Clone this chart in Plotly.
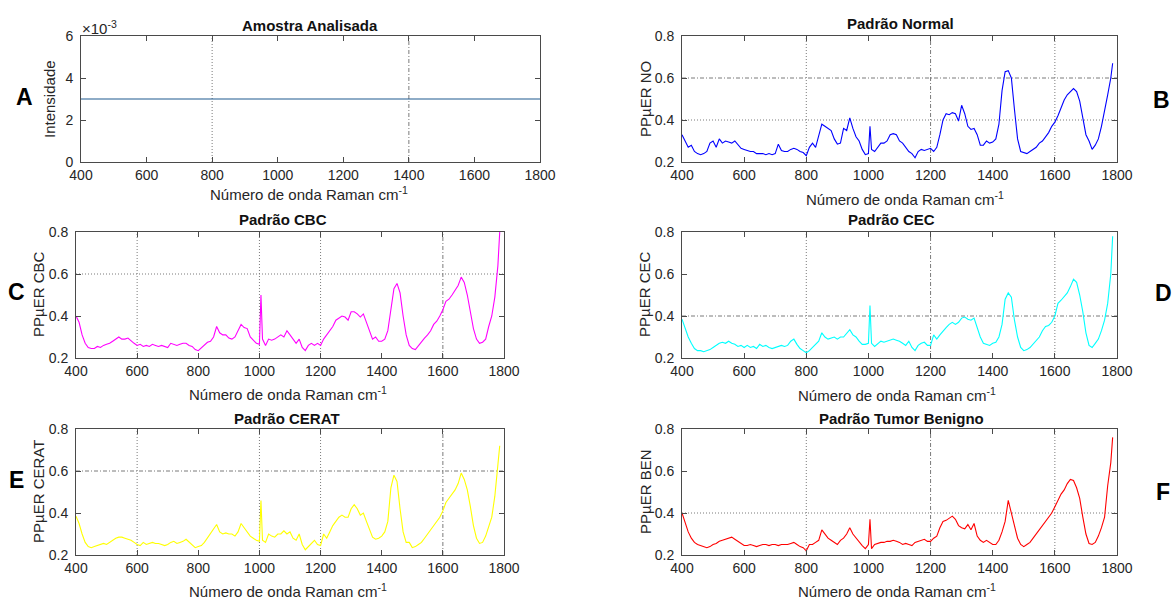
import plotly.graph_objects as go

W, H = 1173, 599

# Raman shift axis (cm^-1); extra sample at 1005 for the phenylalanine band
wavenumber = list(range(400, 1001, 10)) + [1005] + list(range(1010, 1781, 10)) + [1786]

# Analysed sample (flat trace)
amostra_x = [400, 1800]
amostra_y = [0.003, 0.003]

# Normal pattern
normal = [
    0.33, 0.30, 0.27, 0.28, 0.25, 0.24, 0.235, 0.24, 0.25, 0.29,      # 400-490
    0.30, 0.27, 0.31, 0.29, 0.30, 0.295, 0.29, 0.30, 0.28, 0.265,     # 500-590
    0.26, 0.255, 0.25, 0.25, 0.24, 0.24, 0.24, 0.235, 0.24, 0.235,    # 600-690
    0.24, 0.285, 0.255, 0.25, 0.25, 0.26, 0.265, 0.26, 0.25, 0.245,   # 700-790
    0.23, 0.27, 0.29, 0.27, 0.32, 0.38, 0.37, 0.36, 0.35, 0.31,       # 800-890
    0.285, 0.29, 0.36, 0.35, 0.41, 0.36, 0.32, 0.30, 0.26, 0.235,     # 900-990
    0.24, 0.37, 0.26, 0.25, 0.27, 0.29, 0.29, 0.30, 0.33, 0.335,      # 1000,1005,1010-1080
    0.33, 0.30, 0.29, 0.27, 0.25, 0.24, 0.22, 0.25, 0.26, 0.255,      # 1090-1180
    0.26, 0.265, 0.25, 0.27, 0.33, 0.40, 0.43, 0.425, 0.435, 0.43,    # 1190-1280
    0.395, 0.47, 0.43, 0.37, 0.355, 0.36, 0.33, 0.28, 0.28, 0.30,     # 1290-1380
    0.29, 0.295, 0.31, 0.38, 0.54, 0.63, 0.635, 0.60, 0.45, 0.31,     # 1390-1480
    0.25, 0.245, 0.24, 0.25, 0.26, 0.27, 0.29, 0.30, 0.32, 0.34,      # 1490-1580
    0.37, 0.39, 0.42, 0.46, 0.495, 0.52, 0.535, 0.55, 0.535, 0.49,    # 1590-1680
    0.41, 0.33, 0.30, 0.26, 0.28, 0.31, 0.37, 0.44, 0.52, 0.60,       # 1690-1780
    0.67,                                                             # 1786
]

# CBC pattern
cbc = [
    0.40, 0.37, 0.31, 0.27, 0.25, 0.245, 0.245, 0.255, 0.25, 0.26,
    0.265, 0.27, 0.28, 0.29, 0.30, 0.29, 0.29, 0.295, 0.28, 0.27,
    0.26, 0.265, 0.255, 0.26, 0.255, 0.265, 0.26, 0.255, 0.26, 0.255,
    0.25, 0.27, 0.265, 0.26, 0.265, 0.27, 0.27, 0.26, 0.255, 0.24,
    0.235, 0.25, 0.26, 0.275, 0.28, 0.30, 0.35, 0.32, 0.31, 0.31,
    0.295, 0.29, 0.30, 0.33, 0.36, 0.345, 0.34, 0.30, 0.285, 0.27,
    0.265, 0.50, 0.29, 0.26, 0.29, 0.285, 0.29, 0.30, 0.31, 0.30,
    0.33, 0.31, 0.29, 0.27, 0.29, 0.25, 0.235, 0.26, 0.27, 0.26,
    0.27, 0.26, 0.29, 0.31, 0.33, 0.35, 0.38, 0.39, 0.40, 0.395,
    0.38, 0.42, 0.42, 0.41, 0.395, 0.41, 0.37, 0.33, 0.29, 0.30,
    0.28, 0.28, 0.29, 0.33, 0.44, 0.53, 0.555, 0.51, 0.40, 0.31,
    0.26, 0.245, 0.24, 0.26, 0.28, 0.295, 0.31, 0.33, 0.36, 0.375,
    0.40, 0.43, 0.47, 0.48, 0.50, 0.52, 0.545, 0.585, 0.56, 0.50,
    0.42, 0.34, 0.29, 0.27, 0.275, 0.29, 0.35, 0.40, 0.49, 0.64,
    0.80,
]

# CEC pattern
cec = [
    0.385, 0.34, 0.30, 0.27, 0.245, 0.235, 0.235, 0.23, 0.235, 0.24,
    0.25, 0.26, 0.27, 0.275, 0.27, 0.28, 0.27, 0.265, 0.255, 0.26,
    0.25, 0.26, 0.25, 0.255, 0.245, 0.265, 0.255, 0.26, 0.25, 0.245,
    0.25, 0.255, 0.26, 0.255, 0.26, 0.28, 0.29, 0.265, 0.245, 0.235,
    0.225, 0.235, 0.25, 0.26, 0.28, 0.32, 0.30, 0.29, 0.295, 0.30,
    0.29, 0.30, 0.30, 0.32, 0.335, 0.31, 0.30, 0.28, 0.265, 0.265,
    0.27, 0.45, 0.27, 0.255, 0.27, 0.28, 0.275, 0.28, 0.285, 0.29,
    0.285, 0.28, 0.27, 0.26, 0.28, 0.25, 0.235, 0.26, 0.27, 0.275,
    0.26, 0.26, 0.31, 0.29, 0.31, 0.33, 0.345, 0.36, 0.37, 0.36,
    0.37, 0.39, 0.395, 0.385, 0.38, 0.39, 0.34, 0.30, 0.27, 0.265,
    0.26, 0.27, 0.275, 0.30, 0.36, 0.48, 0.51, 0.49, 0.38, 0.30,
    0.25, 0.235, 0.24, 0.25, 0.265, 0.28, 0.30, 0.33, 0.35, 0.355,
    0.37, 0.40, 0.46, 0.475, 0.49, 0.51, 0.54, 0.575, 0.56, 0.50,
    0.42, 0.32, 0.26, 0.25, 0.27, 0.29, 0.33, 0.38, 0.46, 0.60,
    0.78,
]

# CERAT pattern
cerat = [
    0.385, 0.35, 0.30, 0.26, 0.24, 0.235, 0.24, 0.245, 0.25, 0.255,
    0.25, 0.26, 0.27, 0.28, 0.285, 0.285, 0.28, 0.275, 0.27, 0.26,
    0.25, 0.245, 0.26, 0.25, 0.255, 0.26, 0.255, 0.255, 0.25, 0.245,
    0.25, 0.26, 0.265, 0.255, 0.26, 0.265, 0.275, 0.26, 0.245, 0.235,
    0.24, 0.245, 0.26, 0.28, 0.30, 0.32, 0.345, 0.31, 0.30, 0.305,
    0.30, 0.30, 0.29, 0.31, 0.35, 0.33, 0.31, 0.29, 0.28, 0.27,
    0.265, 0.46, 0.27, 0.26, 0.30, 0.29, 0.285, 0.30, 0.30, 0.315,
    0.30, 0.31, 0.28, 0.27, 0.30, 0.25, 0.225, 0.24, 0.25, 0.27,
    0.25, 0.245, 0.30, 0.28, 0.31, 0.34, 0.36, 0.38, 0.39, 0.38,
    0.38, 0.42, 0.44, 0.42, 0.39, 0.40, 0.36, 0.32, 0.285, 0.275,
    0.28, 0.29, 0.31, 0.36, 0.52, 0.58, 0.55, 0.42, 0.31, 0.26,
    0.26, 0.235, 0.24, 0.25, 0.26, 0.28, 0.30, 0.32, 0.34, 0.355,
    0.38, 0.41, 0.45, 0.47, 0.49, 0.51, 0.54, 0.59, 0.56, 0.51,
    0.43, 0.34, 0.28, 0.255, 0.26, 0.29, 0.335, 0.38, 0.48, 0.65,
    0.72,
]

# Benign tumour pattern
benigno = [
    0.40, 0.35, 0.31, 0.28, 0.26, 0.25, 0.245, 0.24, 0.235, 0.24,
    0.25, 0.255, 0.265, 0.27, 0.275, 0.28, 0.285, 0.275, 0.265, 0.255,
    0.245, 0.245, 0.25, 0.245, 0.24, 0.245, 0.25, 0.25, 0.245, 0.25,
    0.25, 0.245, 0.25, 0.25, 0.25, 0.255, 0.26, 0.25, 0.24, 0.235,
    0.22, 0.25, 0.25, 0.26, 0.27, 0.32, 0.30, 0.28, 0.27, 0.26,
    0.25, 0.27, 0.28, 0.30, 0.33, 0.30, 0.28, 0.26, 0.245, 0.23,
    0.25, 0.37, 0.23, 0.25, 0.255, 0.26, 0.26, 0.265, 0.265, 0.27,
    0.265, 0.26, 0.25, 0.255, 0.25, 0.245, 0.26, 0.265, 0.27, 0.275,
    0.265, 0.265, 0.28, 0.29, 0.33, 0.36, 0.365, 0.375, 0.385, 0.37,
    0.34, 0.33, 0.325, 0.345, 0.32, 0.35, 0.29, 0.27, 0.26, 0.27,
    0.26, 0.25, 0.25, 0.27, 0.31, 0.36, 0.46, 0.40, 0.33, 0.28,
    0.25, 0.24, 0.25, 0.26, 0.28, 0.30, 0.32, 0.34, 0.36, 0.38,
    0.40, 0.43, 0.46, 0.49, 0.51, 0.54, 0.56, 0.555, 0.52, 0.47,
    0.38, 0.30, 0.255, 0.25, 0.26, 0.29, 0.33, 0.38, 0.53, 0.64,
    0.76,
]

x_ticks = [400, 600, 800, 1000, 1200, 1400, 1600, 1800]
y_ticks = [0.2, 0.4, 0.6, 0.8]
a_ticks = [0, 0.002, 0.004, 0.006]
a_tick_text = ["0", "2", "4", "6"]

FONT = "Liberation Sans, Arial, Helvetica, sans-serif"
AXIS_COLOR = "#4a4a4a"
TEXT_COLOR = "#262626"
GRID_COLOR = "#7a7a7a"
X_LABEL = "Número de onda Raman cm<sup>-1</sup>"
DASHES = {"dot": "1px,2px", "dashdot": "4px,2px,1px,2px"}


def fx(px):
    return px / W


def fy(py):
    return 1 - py / H


panels = [
    dict(sfx="", box=(81, 540, 36, 162), title="Amostra Analisada", title_xy=(310, 25),
         ylab="Intensidade", ylab_x=49, xlab_xy=(309, 193), letter="A", letter_xy=(24, 97),
         x=amostra_x, y=amostra_y, color="#1f5a8f",
         gx=[(800, "dot"), (1400, "dashdot")], gy=[]),
    dict(sfx="2", box=(682, 1117, 36, 162), title="Padrão Normal", title_xy=(900, 24),
         ylab="PPµER NO", ylab_x=645, xlab_xy=(905, 198), letter="B", letter_xy=(1161, 100),
         x=wavenumber, y=normal, color="#0000ff",
         gx=[(800, "dot"), (1200, "dashdot"), (1600, "dot")], gy=[(0.4, "dot"), (0.6, "dashdot")]),
    dict(sfx="3", box=(76, 504, 232, 358), title="Padrão CBC", title_xy=(283, 219),
         ylab="PPµER CBC", ylab_x=38, xlab_xy=(288, 393), letter="C", letter_xy=(16, 292),
         x=wavenumber, y=cbc, color="#ff00ff",
         gx=[(600, "dot"), (1000, "dot"), (1200, "dot"), (1600, "dashdot")], gy=[(0.6, "dot")]),
    dict(sfx="4", box=(682, 1117, 232, 358), title="Padrão CEC", title_xy=(892, 219),
         ylab="PPµER CEC", ylab_x=644, xlab_xy=(897, 394), letter="D", letter_xy=(1163, 293),
         x=wavenumber, y=cec, color="#00ffff",
         gx=[(800, "dot"), (1200, "dashdot"), (1600, "dot")], gy=[(0.4, "dashdot")]),
    dict(sfx="5", box=(76, 504, 429, 555), title="Padrão CERAT", title_xy=(287, 418),
         ylab="PPµER CERAT", ylab_x=38, xlab_xy=(288, 590), letter="E", letter_xy=(16, 480),
         x=wavenumber, y=cerat, color="#ffff00",
         gx=[(600, "dot"), (1000, "dot"), (1200, "dot"), (1600, "dashdot")], gy=[(0.6, "dashdot")]),
    dict(sfx="6", box=(682, 1117, 429, 555), title="Padrão Tumor Benigno", title_xy=(902, 418),
         ylab="PPµER BEN", ylab_x=645, xlab_xy=(897, 590), letter="F", letter_xy=(1163, 492),
         x=wavenumber, y=benigno, color="#ff0000",
         gx=[(800, "dot"), (1200, "dashdot"), (1600, "dot")], gy=[(0.4, "dot")]),
]

fig = go.Figure()
layout = dict(
    width=W, height=H, autosize=False,
    margin=dict(l=0, r=0, t=0, b=0, pad=0),
    paper_bgcolor="white", plot_bgcolor="white",
    showlegend=False,
    font=dict(family=FONT, size=14, color=TEXT_COLOR),
)
annotations = []
shapes = []

for p in panels:
    s = p["sfx"]
    xa, ya = "x" + s, "y" + s
    l, r, t, b = p["box"]
    is_a = p["letter"] == "A"

    fig.add_trace(go.Scatter(
        x=p["x"], y=p["y"], mode="lines", xaxis=xa, yaxis=ya,
        line=dict(color=p["color"], width=1.1), hoverinfo="skip",
    ))

    common = dict(
        showline=True, linecolor=AXIS_COLOR, linewidth=1, mirror="ticks",
        ticks="inside", ticklen=5, tickcolor=AXIS_COLOR, tickwidth=1,
        showgrid=False, zeroline=False, automargin=False,
        tickfont=dict(size=14, color=TEXT_COLOR),
    )
    layout["xaxis" + s] = dict(
        common, domain=[fx(l), fx(r)], anchor=ya, range=[400, 1800],
        tickvals=x_ticks, ticktext=[str(v) for v in x_ticks], ticklabelstandoff=0,
    )
    if is_a:
        yax = dict(range=[0, 0.006], tickvals=a_ticks, ticktext=a_tick_text)
    else:
        yax = dict(range=[0.2, 0.8], tickvals=y_ticks, ticktext=["0.2", "0.4", "0.6", "0.8"])
    layout["yaxis" + s] = dict(
        common, domain=[fy(b), fy(t)], anchor=xa, ticklabelstandoff=4, **yax,
    )

    # partial grid lines
    for val, dash in p["gx"]:
        shapes.append(dict(type="line", xref=xa, yref=ya + " domain", x0=val, x1=val, y0=0, y1=1,
                           line=dict(color=GRID_COLOR, width=1, dash=DASHES[dash]), layer="below"))
    for val, dash in p["gy"]:
        shapes.append(dict(type="line", xref=xa + " domain", yref=ya, x0=0, x1=1, y0=val, y1=val,
                           line=dict(color=GRID_COLOR, width=1, dash=DASHES[dash]), layer="below"))

    tx, ty = p["title_xy"]
    annotations.append(dict(text="<b>" + p["title"] + "</b>", x=fx(tx), y=fy(ty), xref="paper", yref="paper",
                            xanchor="center", yanchor="middle", showarrow=False,
                            font=dict(size=15, color="#111111")))
    lx, ly = p["xlab_xy"]
    annotations.append(dict(text=X_LABEL, x=fx(lx), y=fy(ly), xref="paper", yref="paper",
                            xanchor="center", yanchor="middle", showarrow=False,
                            font=dict(size=15, color=TEXT_COLOR)))
    annotations.append(dict(text=p["ylab"], x=fx(p["ylab_x"]), y=fy((t + b) / 2), xref="paper", yref="paper",
                            xanchor="center", yanchor="middle", showarrow=False, textangle=-90,
                            font=dict(size=15, color=TEXT_COLOR)))
    gx_, gy_ = p["letter_xy"]
    annotations.append(dict(text="<b>" + p["letter"] + "</b>", x=fx(gx_), y=fy(gy_), xref="paper", yref="paper",
                            xanchor="center", yanchor="middle", showarrow=False,
                            font=dict(size=23, color="#000000")))

# exponent marker for the intensity axis
annotations.append(dict(text="×10<sup>-3</sup>", x=fx(80), y=fy(27), xref="paper", yref="paper",
                        xanchor="left", yanchor="middle", showarrow=False,
                        font=dict(size=15, color=TEXT_COLOR)))

layout["annotations"] = annotations
layout["shapes"] = shapes
fig.update_layout(**layout)

fig.write_html("out.html")
